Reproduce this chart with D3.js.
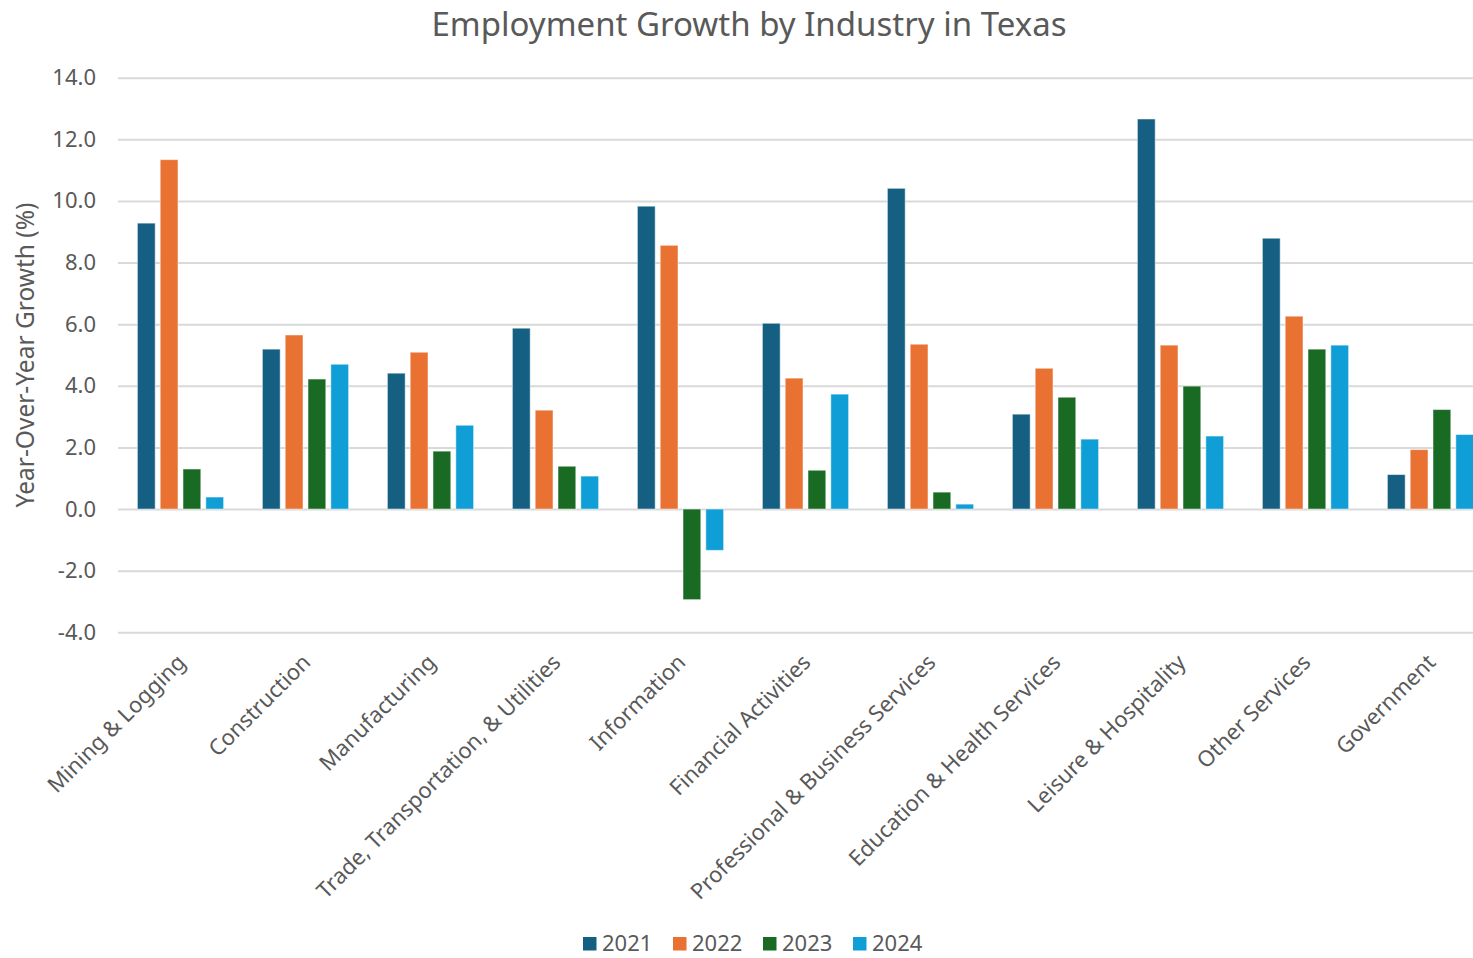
<!DOCTYPE html>
<html>
<head>
<meta charset="utf-8">
<script src="https://cdn.jsdelivr.net/npm/d3@7"></script>
<style>
  html, body { margin: 0; padding: 0; background: #fff; }
  svg { display: block; font-family: "Noto Sans", "Open Sans", sans-serif; }
</style>
</head>
<body>
<svg id="chart" width="1473" height="958"></svg>
<script>
// Industries along the x axis
const industries = [
  "Mining & Logging", "Construction", "Manufacturing",
  "Trade, Transportation, & Utilities", "Information", "Financial Activities",
  "Professional & Business Services", "Education & Health Services",
  "Leisure & Hospitality", "Other Services", "Government"
];
const years = ["2021", "2022", "2023", "2024"];

// Year-over-year employment growth (%) per industry
const growth2021 = [9.28, 5.19, 4.41, 5.87, 9.83, 6.03, 10.41, 3.08, 12.66, 8.79, 1.12];
const growth2022 = [11.34, 5.65, 5.09, 3.21, 8.56, 4.25, 5.35, 4.57, 5.32, 6.26, 1.93];
const growth2023 = [1.30, 4.22, 1.88, 1.39, -2.94, 1.26, 0.55, 3.63, 3.99, 5.19, 3.23];
const growth2024 = [0.39, 4.70, 2.72, 1.07, -1.34, 3.73, 0.16, 2.27, 2.37, 5.32, 2.42];

const yTicks = [-4, -2, 0, 2, 4, 6, 8, 10, 12, 14];
const colors = ["#156082", "#E97132", "#196B24", "#0F9ED5"];

const seriesValues = [growth2021, growth2022, growth2023, growth2024];
const rows = industries.map((name, i) => ({
  name,
  values: years.map((yr, k) => ({ year: yr, value: seriesValues[k][i] }))
}));

const svg = d3.select("#chart");
const textColor = "#595959";

const plot = { left: 118, right: 1493, top: 77.7, bottom: 632.3 };

const x0 = d3.scaleBand()
  .domain(industries)
  .range([plot.left, plot.right])
  .paddingInner(0.27)
  .paddingOuter(0.135);

const x1 = d3.scaleBand()
  .domain(years)
  .range([0, x0.bandwidth()])
  .paddingInner(0.22)
  .paddingOuter(0.11);

const y = d3.scaleLinear()
  .domain([-4, 14])
  .range([plot.bottom, plot.top]);

const color = d3.scaleOrdinal().domain(years).range(colors);

// Title
svg.append("text")
  .attr("x", 749)
  .attr("y", 36)
  .attr("text-anchor", "middle")
  .attr("fill", textColor)
  .style("font-size", "33px")
  .text("Employment Growth by Industry in Texas");

// Gridlines and y tick labels (plain hyphen for negatives)
const fmt = d3.format(".1f");
const yAxis = d3.axisLeft(y)
  .tickValues(yTicks)
  .tickSize(-(plot.right - plot.left))
  .tickPadding(22)
  .tickFormat(d => fmt(d).replace("\u2212", "-"));

const gy = svg.append("g")
  .attr("transform", `translate(${plot.left},0)`)
  .call(yAxis);
gy.select(".domain").remove();
gy.selectAll(".tick line").attr("stroke", "#d9d9d9").attr("stroke-width", 2);
gy.selectAll(".tick text")
  .attr("fill", textColor)
  .style("font-size", "22px")
  .style("font-family", "\"Noto Sans\", sans-serif");

// Y axis title
svg.append("text")
  .attr("transform", "translate(34,355) rotate(-90)")
  .attr("text-anchor", "middle")
  .attr("fill", textColor)
  .style("font-size", "24.5px")
  .text("Year-Over-Year Growth (%)");

// Bars
const groups = svg.append("g").selectAll("g")
  .data(rows)
  .join("g")
  .attr("transform", d => `translate(${x0(d.name)},0)`);

groups.selectAll("rect")
  .data(d => d.values)
  .join("rect")
  .attr("x", d => x1(d.year))
  .attr("width", x1.bandwidth())
  .attr("y", d => y(Math.max(0, d.value)))
  .attr("height", d => Math.abs(y(d.value) - y(0)))
  .attr("fill", d => color(d.year))
  .attr("stroke", "#ffffff")
  .attr("stroke-opacity", 0.5)
  .attr("stroke-width", 1);

// Category labels, rotated
const xAxis = d3.axisBottom(x0).tickSize(0).tickPadding(0);
const gx = svg.append("g")
  .attr("transform", `translate(0,${plot.bottom + 18})`)
  .call(xAxis);
gx.select(".domain").remove();
gx.selectAll(".tick text")
  .attr("fill", textColor)
  .style("font-size", "22px")
  .style("font-family", "\"Noto Sans\", sans-serif")
  .attr("text-anchor", "end")
  .attr("dy", "0.35em")
  .attr("transform", "translate(1,8) rotate(-45)");

// Legend
const legend = svg.append("g").attr("transform", "translate(583,937)");
const item = legend.selectAll("g")
  .data(years)
  .join("g")
  .attr("transform", (d, i) => `translate(${i * 90},0)`);
item.append("rect")
  .attr("width", 13.5)
  .attr("height", 13.5)
  .attr("fill", d => color(d));
item.append("text")
  .attr("x", 19)
  .attr("y", 13.5)
  .attr("fill", textColor)
  .style("font-size", "22px")
  .text(d => d);
</script>
</body>
</html>
